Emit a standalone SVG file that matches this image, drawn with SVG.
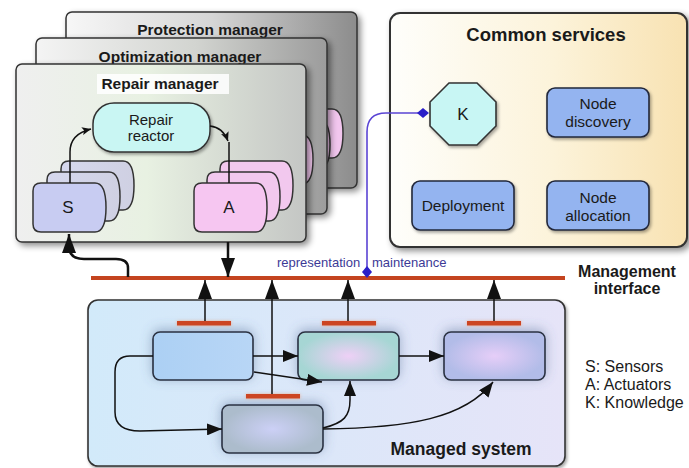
<svg xmlns="http://www.w3.org/2000/svg" xmlns:xlink="http://www.w3.org/1999/xlink" width="689" height="468" viewBox="0 0 689 468">
<style>
text{font-family:"Liberation Sans",Arial,sans-serif;fill:#1a1a1a}
.b{font-weight:bold}
.mgr{stroke:#333;stroke-width:1.5}
.card{stroke:#333;stroke-width:1.5}
.svc{fill:#94b4f0;stroke:#22283a;stroke-width:1.6}
.mn{stroke:#2a3040;stroke-width:1.6}
.bar{fill:#cc4422}
.ln{fill:none;stroke:#111;stroke-width:1.5}
.lnb{fill:none;stroke:#111;stroke-width:2.5}
.blue{fill:none;stroke:#5a44d4;stroke-width:1.6}
</style>
<defs>
<linearGradient id="gProt" x1="0" x2="1" y1="0" y2="0"><stop offset="0" stop-color="#f7f7f7"/><stop offset="0.5" stop-color="#d6d6d6"/><stop offset="1" stop-color="#8c8c8c"/></linearGradient>
<linearGradient id="gOpt" x1="0" x2="1" y1="0" y2="0"><stop offset="0" stop-color="#f4f4f4"/><stop offset="0.55" stop-color="#d2d4d0"/><stop offset="1" stop-color="#9c9c9c"/></linearGradient>
<linearGradient id="gRep" x1="0" x2="1" y1="0" y2="0"><stop offset="0" stop-color="#efefef"/><stop offset="0.45" stop-color="#e8f1e2"/><stop offset="1" stop-color="#c4c6c4"/></linearGradient>
<linearGradient id="gCom" x1="0" x2="1" y1="0" y2="0"><stop offset="0" stop-color="#fefefb"/><stop offset="0.55" stop-color="#fcf3da"/><stop offset="1" stop-color="#f8e2b2"/></linearGradient>
<linearGradient id="gMan" x1="0" x2="1" y1="0" y2="0"><stop offset="0" stop-color="#d2eafa"/><stop offset="1" stop-color="#e6e4f8"/></linearGradient>
<linearGradient id="gN1" x1="0" x2="1" y1="0" y2="0"><stop offset="0" stop-color="#acd0f4"/><stop offset="1" stop-color="#b8d6f6"/></linearGradient>
<radialGradient id="gN2"><stop offset="0" stop-color="#eed0f6"/><stop offset="1" stop-color="#a6d6d4"/></radialGradient>
<radialGradient id="gN3"><stop offset="0" stop-color="#e6cef8"/><stop offset="1" stop-color="#b2bce8"/></radialGradient>
<radialGradient id="gN4"><stop offset="0" stop-color="#ccd0f6"/><stop offset="1" stop-color="#acbccc"/></radialGradient>
<linearGradient id="gSb" x1="0" x2="1" y1="0" y2="0"><stop offset="0" stop-color="#d6d8ee"/><stop offset="1" stop-color="#cfd0e2"/></linearGradient>
<filter id="sh" x="-10%" y="-10%" width="125%" height="125%"><feDropShadow dx="3" dy="3" stdDeviation="3" flood-color="#000" flood-opacity="0.45"/></filter>
<filter id="shs" x="-10%" y="-10%" width="130%" height="130%"><feDropShadow dx="1.5" dy="2" stdDeviation="1.5" flood-color="#000" flood-opacity="0.35"/></filter>
<filter id="glow" x="-30%" y="-40%" width="160%" height="180%"><feDropShadow dx="0" dy="-2" stdDeviation="6" flood-color="#4a6690" flood-opacity="0.45"/></filter>
<filter id="bglow" x="-20%" y="-200%" width="140%" height="500%"><feDropShadow dx="0" dy="0" stdDeviation="1.5" flood-color="#ff8a50" flood-opacity="0.6"/></filter>
<path id="card" d="M8,0 H62 C71,0 73,12 73,24.5 C73,37 71,49 62,49 H8 Q0,49 0,41 V8 Q0,0 8,0 Z"/>
<marker id="ah" markerUnits="userSpaceOnUse" markerWidth="16" markerHeight="12" refX="15" refY="6" orient="auto"><path d="M0,0 L15,6 L0,12 Z" fill="#111"/></marker>
<marker id="ahb" markerUnits="userSpaceOnUse" markerWidth="20" markerHeight="14" refX="19" refY="7" orient="auto"><path d="M0,0 L19,7 L0,14 Z" fill="#111"/></marker>
<marker id="ahs" markerUnits="userSpaceOnUse" markerWidth="10" markerHeight="8" refX="9" refY="4" orient="auto"><path d="M0,0 L9,4 L0,8 L2,4 Z" fill="#111"/></marker>
<marker id="dia" markerUnits="userSpaceOnUse" markerWidth="12" markerHeight="12" refX="6" refY="6" orient="auto"><path d="M0,6 L6,1 L12,6 L6,11 Z" fill="#2a1ec8"/></marker>
</defs>

<g id="protection-manager">
<rect class="mgr" x="66" y="12" width="291" height="176" rx="6" fill="url(#gProt)" filter="url(#sh)"/>
<use href="#card" x="270" y="109" class="card" fill="#f2c6ee"/>
<use href="#card" x="257" y="120" class="card" fill="#f2c6ee"/>
<use href="#card" x="244" y="131" class="card" fill="#f5c6f0"/>
<text class="b" x="210" y="35" font-size="15.5" text-anchor="middle">Protection manager</text>
</g>

<g id="optimization-manager">
<rect class="mgr" x="36" y="38" width="291" height="176" rx="6" fill="url(#gOpt)" filter="url(#sh)"/>
<use href="#card" x="240" y="135" class="card" fill="#f2c6ee"/>
<use href="#card" x="227" y="146" class="card" fill="#f2c6ee"/>
<use href="#card" x="214" y="157" class="card" fill="#f5c6f0"/>
<text class="b" x="180" y="62" font-size="15.5" text-anchor="middle">Optimization manager</text>
</g>

<g id="repair-manager">
<rect class="mgr" x="16" y="64" width="290" height="178" rx="6" fill="url(#gRep)" filter="url(#sh)"/>
<rect x="97" y="74" width="132" height="20" fill="#ffffff" opacity="0.85"/>
<text class="b" x="160" y="89" font-size="15.5" text-anchor="middle">Repair manager</text>
</g>

<g id="repair-reactor">
<rect x="93" y="103" width="117" height="49" rx="21" fill="#c9f6f3" stroke="#333" stroke-width="1.5" filter="url(#shs)"/>
<text x="151" y="125" font-size="15" text-anchor="middle">Repair</text>
<text x="151" y="141" font-size="15" text-anchor="middle">reactor</text>
</g>

<g id="sensors">
<use href="#card" x="61" y="161" class="card" fill="url(#gSb)"/>
<use href="#card" x="47" y="172" class="card" fill="url(#gSb)"/>
<use href="#card" x="33" y="183" class="card" fill="#c8ccf2"/>
<text x="68" y="213" font-size="17" text-anchor="middle">S</text>
</g>

<g id="actuators">
<use href="#card" x="220" y="161" class="card" fill="#f2c8ee"/>
<use href="#card" x="207" y="172" class="card" fill="#f2c8ee"/>
<use href="#card" x="194" y="183" class="card" fill="#f6c6f1"/>
<text x="229" y="213" font-size="17" text-anchor="middle">A</text>
</g>

<g id="common-services">
<rect x="390" y="13" width="297" height="234" rx="10" fill="url(#gCom)" stroke="#333" stroke-width="2" filter="url(#sh)"/>
<text class="b" x="546" y="41" font-size="18.5" text-anchor="middle">Common services</text>
</g>

<g id="knowledge">
<polygon points="449,83 477,83 496,102 496,126 477,145 449,145 430,126 430,102" fill="#c8f6f4" stroke="#333" stroke-width="1.6" filter="url(#shs)"/>
<text x="463" y="120" font-size="17" text-anchor="middle">K</text>
</g>

<g id="node-discovery">
<rect class="svc" x="547" y="88" width="102" height="49" rx="8" filter="url(#shs)"/>
<text x="598" y="109" font-size="15.5" text-anchor="middle">Node</text>
<text x="598" y="127" font-size="15.5" text-anchor="middle">discovery</text>
</g>

<g id="deployment">
<rect class="svc" x="412" y="181" width="102" height="49" rx="8" filter="url(#shs)"/>
<text x="463" y="211" font-size="15.5" text-anchor="middle">Deployment</text>
</g>

<g id="node-allocation">
<rect class="svc" x="547" y="181" width="102" height="49" rx="8" filter="url(#shs)"/>
<text x="598" y="203" font-size="15.5" text-anchor="middle">Node</text>
<text x="598" y="221" font-size="15.5" text-anchor="middle">allocation</text>
</g>

<g id="managed-system">
<rect x="88" y="300" width="477" height="166" rx="10" fill="url(#gMan)" stroke="#333" stroke-width="1.6" filter="url(#shs)"/>
<text class="b" x="461" y="455" font-size="17.5" text-anchor="middle">Managed system</text>
</g>

<g id="node-1">
<rect class="mn" x="153" y="332" width="100" height="48" rx="7" fill="url(#gN1)" filter="url(#glow)"/>
<rect class="bar" x="177" y="321" width="54" height="4.5" filter="url(#bglow)"/>
</g>
<g id="node-2">
<rect class="mn" x="298" y="332" width="101" height="48" rx="7" fill="url(#gN2)" filter="url(#glow)"/>
<rect class="bar" x="322" y="321" width="54" height="4.5" filter="url(#bglow)"/>
</g>
<g id="node-3">
<rect class="mn" x="444" y="332" width="101" height="48" rx="7" fill="url(#gN3)" filter="url(#glow)"/>
<rect class="bar" x="467" y="321" width="54" height="4.5" filter="url(#bglow)"/>
</g>
<g id="node-4">
<rect class="mn" x="222" y="405" width="101" height="48" rx="7" fill="url(#gN4)" filter="url(#glow)"/>
<rect class="bar" x="246" y="394" width="54" height="4.5" filter="url(#bglow)"/>
</g>

<g id="management-interface">
<line x1="91" y1="278" x2="565" y2="278" stroke="#c4441f" stroke-width="4"/>
<text class="b" x="627" y="277" font-size="16" text-anchor="middle">Management</text>
<text class="b" x="627" y="294" font-size="16" text-anchor="middle">interface</text>
</g>

<g id="legend">
<text x="585" y="372" font-size="16">S: Sensors</text>
<text x="585" y="390" font-size="16">A: Actuators</text>
<text x="585" y="408" font-size="16">K: Knowledge</text>
</g>

<g id="connectors">
<path class="ln" d="M70,183 V152 Q70,134 91,129" marker-end="url(#ahs)"/>
<path class="ln" d="M210,126 C219,127 225,133 228,141" marker-end="url(#ahs)"/>
<path class="ln" d="M229,142 V183"/>
<path class="lnb" d="M128,277 V268 Q128,259 116,259 H84 Q69,259 69,246 V234" marker-end="url(#ahb)"/>
<path class="lnb" d="M228,242 V277" marker-end="url(#ahb)"/>
<path class="ln" d="M205,321 V280" marker-end="url(#ahb)"/>
<path class="ln" d="M272,394 V280" marker-end="url(#ahb)"/>
<path class="ln" d="M348,321 V280" marker-end="url(#ahb)"/>
<path class="ln" d="M494,321 V280" marker-end="url(#ahb)"/>
<path class="ln" d="M253,356 H298" marker-end="url(#ah)"/>
<path class="ln" d="M399,356 H444" marker-end="url(#ah)"/>
<path class="ln" d="M254,372 L322,382" marker-end="url(#ah)"/>
<path class="ln" d="M153,356 H130 Q115,356 115,372 V412 Q115,431 140,431 L222,429" marker-end="url(#ah)"/>
<path class="ln" d="M323,428 C344,423 350,416 350,400 V381" marker-end="url(#ah)"/>
<path class="ln" d="M323,429 C410,428 465,418 493,382" marker-end="url(#ah)"/>
<path class="blue" d="M423,113 H386 Q367,113 367,132 V272" marker-start="url(#dia)" marker-end="url(#dia)"/>
<text x="277" y="267" font-size="13" style="fill:#3c3a96">representation</text>
<text x="372" y="267" font-size="13" style="fill:#3c3a96">maintenance</text>
</g>
</svg>
